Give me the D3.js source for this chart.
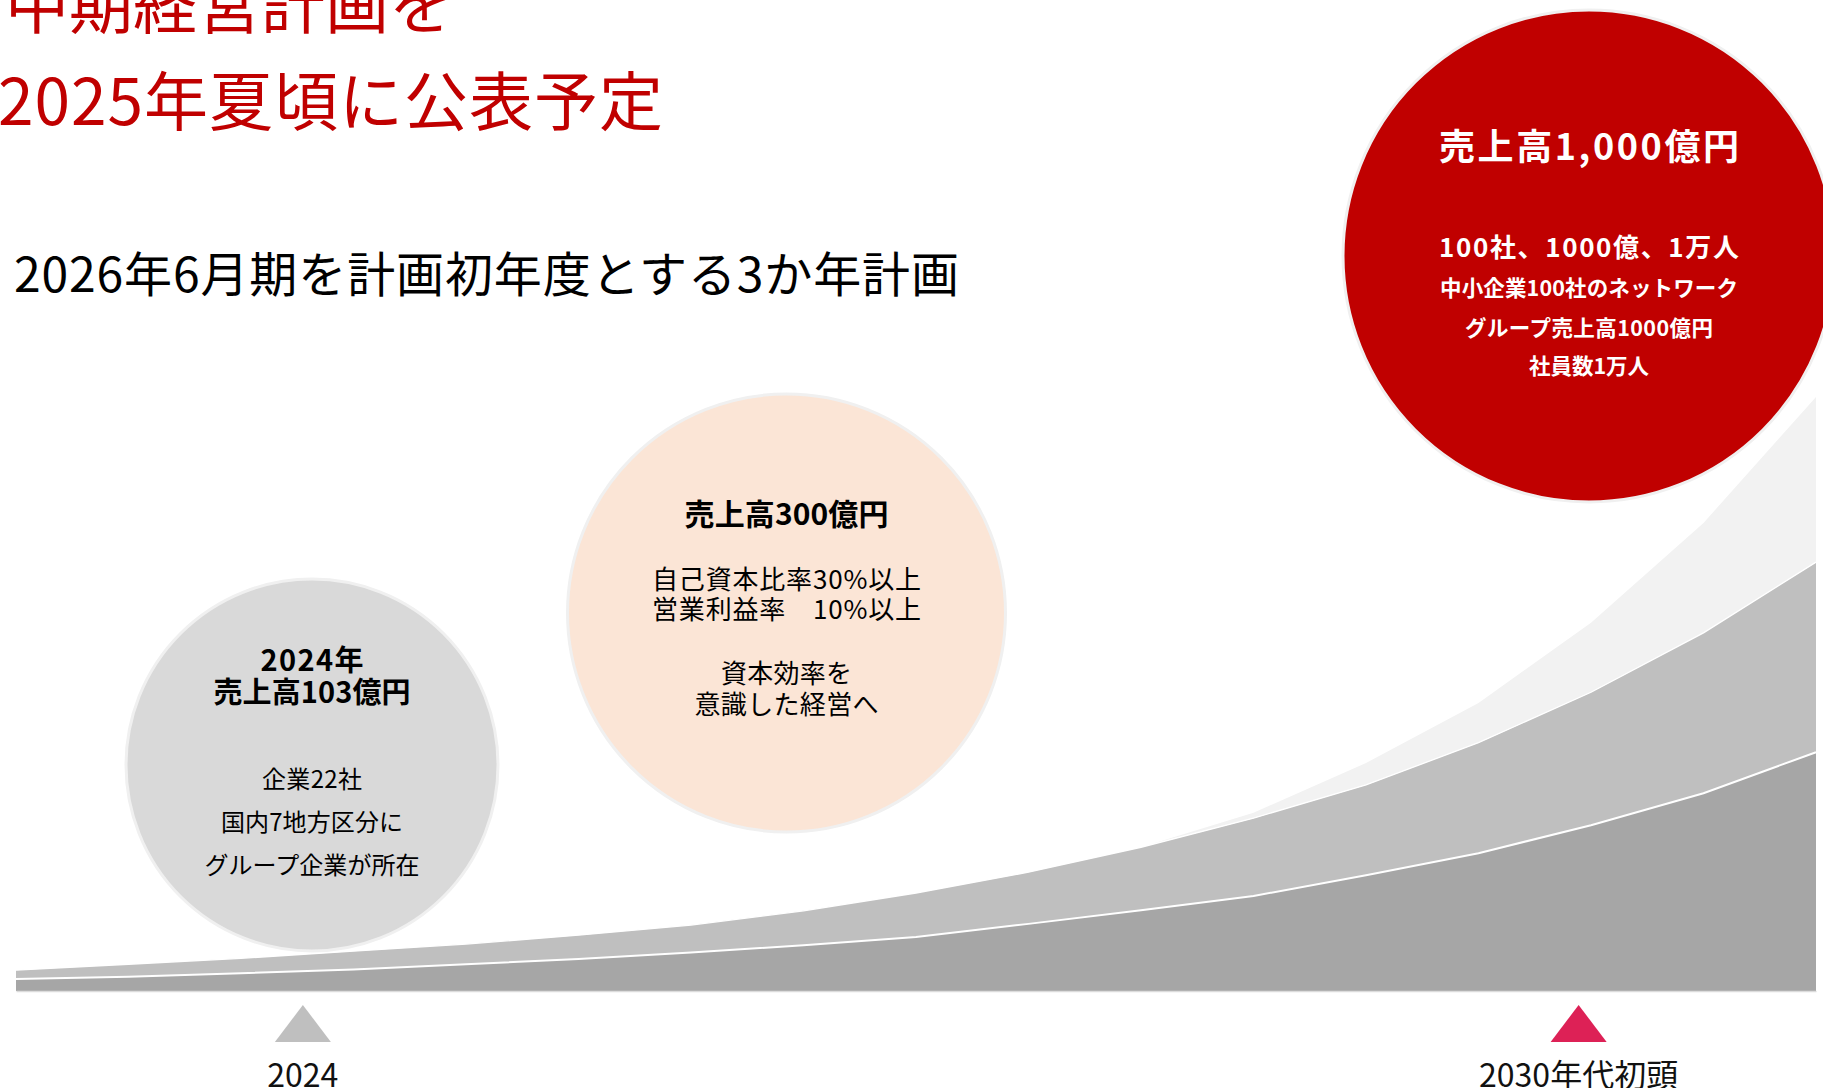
<!DOCTYPE html>
<html lang="ja">
<head>
<meta charset="utf-8">
<script src="https://cdn.jsdelivr.net/npm/d3@7"></script>
<style>
  html, body { margin: 0; padding: 0; background: #fff; }
  svg { display: block; }
  text { font-family: "Noto Sans CJK JP", "Noto Sans", sans-serif; }
</style>
</head>
<body>
<svg id="chart" width="1823" height="1088"></svg>
<script>
// ---- data -------------------------------------------------------------
// growth path, one entry per period step (scale: 0–1000)
const periods   = [0, 1, 2, 3, 4, 5, 6, 7, 8, 9, 10, 11, 12, 13, 14, 15, 16];
const baseLayer = [20, 24, 30, 36, 45, 54, 65, 77, 91, 113, 136, 160, 195, 232, 279, 333, 402];
const midLayer  = [15, 21, 25, 31, 34, 40, 46, 58, 74, 87, 106, 131, 152, 186, 224, 270, 320];
const topLayer  = [0, 0, 0, 0, 0, 0, 0, 0, 0, 0, 0, 9, 37, 67, 117, 185, 278];
const layerKeys = ["base", "mid", "top"];

// milestones on the time line (in period units)
const milestoneLabels = ["2024", "2030年代初頭"];
const milestoneAt     = [2.55, 13.89];

// headings
const headline = ["中期経営計画を", "2025年夏頃に公表予定"];
const subline  = "2026年6月期を計画初年度とする3か年計画";

// bubble texts
const bubbleText = [
  ["2024年", "売上高103億円", "企業22社", "国内7地方区分に", "グループ企業が所在"],
  ["売上高300億円", "自己資本比率30%以上", "営業利益率　10%以上", "資本効率を", "意識した経営へ"],
  ["売上高1,000億円", "100社、1000億、1万人", "中小企業100社のネットワーク", "グループ売上高1000億円", "社員数1万人"]
];

// ---- layout -----------------------------------------------------------
const svg = d3.select("#chart");

const x = d3.scaleLinear().domain([0, periods.length - 1]).range([16, 1816]);
const y = d3.scaleLinear().domain([0, 1000]).range([991, 397]);

const layerFill = ["#a6a6a6", "#bfbfbf", "#f2f2f2"];

const rows = periods.map((p, i) => ({
  period: p, base: baseLayer[i], mid: midLayer[i], top: topLayer[i]
}));
const stacked = d3.stack().keys(layerKeys)(rows);

const area = d3.area()
  .x(d => x(d.data.period))
  .y0(d => y(d[0]))
  .y1(d => y(d[1]));

const g = svg.append("g");
g.selectAll("path.layer")
  .data(stacked)
  .join("path")
  .attr("class", "layer")
  .attr("d", area)
  .attr("fill", (d, i) => layerFill[i]);

// white seams between layers
const seam = d3.line().x(d => x(d.data.period)).y(d => y(d[1]));
g.append("path").attr("d", seam(stacked[0]))
  .attr("fill", "none").attr("stroke", "#fff").attr("stroke-width", 2);
g.append("path").attr("d", seam(stacked[1]))
  .attr("fill", "none").attr("stroke", "#fff").attr("stroke-width", 1.3);

// baseline
const axis = d3.axisBottom(x).tickSize(0).tickValues([]).tickSizeOuter(0);
const ax = svg.append("g").attr("transform", `translate(0,${y(0)})`).call(axis);
ax.select(".domain").attr("stroke", "#dcdcdc").attr("stroke-width", 1.5);

// milestone markers
const markerColor = ["#bfbfbf", "#dd2156"];
const triTop = 1005, triBase = 1042, triHalf = 28;
milestoneAt.forEach((m, i) => {
  const cx = x(m);
  const p = d3.path();
  p.moveTo(cx, triTop);
  p.lineTo(cx + triHalf, triBase);
  p.lineTo(cx - triHalf, triBase);
  p.closePath();
  svg.append("path").attr("d", p.toString()).attr("fill", markerColor[i]);
  svg.append("text")
    .attr("x", cx).attr("y", 1087)
    .attr("text-anchor", "middle")
    .attr("font-size", 32)
    .attr("fill", "#111")
    .text(milestoneLabels[i]);
});

// vertical centring of a text line on a given y (glyph-box centre)
const mid = (yc, size) => yc - 0.1 * size;

// bubbles
const bubbleLayout = [
  { cx: 312, cy: 765, r: 186, fill: "#d9d9d9", ink: "#000",
    lines: [
      { y: 661, size: 29, bold: true, w: 103 },
      { y: 693, size: 29, bold: true, w: 197 },
      { y: 780, size: 24, w: 100 },
      { y: 823, size: 24, w: 182 },
      { y: 866, size: 24, w: 215 }
    ] },
  { cx: 786.5, cy: 613, r: 219, fill: "#fbe5d6", ink: "#000",
    lines: [
      { y: 515, size: 30, bold: true, w: 204 },
      { y: 580, size: 26, w: 269 },
      { y: 610, size: 26, w: 269 },
      { y: 674, size: 26, w: 131 },
      { y: 705, size: 26, w: 184 }
    ] },
  { cx: 1589, cy: 256, r: 246, fill: "#c00000", ink: "#fff",
    lines: [
      { y: 147.5, size: 36, bold: true, w: 300 },
      { y: 248, size: 26, bold: true, w: 300 },
      { y: 289, size: 21.5, bold: true, w: 298 },
      { y: 328.5, size: 21.5, bold: true, w: 248 },
      { y: 367, size: 21.5, bold: true, w: 120 }
    ] }
];

bubbleLayout.forEach((b, i) => {
  const bg = svg.append("g");
  bg.append("circle")
    .attr("cx", b.cx).attr("cy", b.cy).attr("r", b.r)
    .attr("fill", b.fill)
    .attr("stroke", "#f0f0f0").attr("stroke-width", 3);
  b.lines.forEach((ln, j) => {
    bg.append("text")
      .attr("x", b.cx).attr("y", mid(ln.y, ln.size))
      .attr("text-anchor", "middle")
      .attr("dominant-baseline", "central")
      .attr("font-size", ln.size)
      .attr("font-weight", ln.bold ? 700 : 400)
      .attr("fill", b.ink)
      .attr("textLength", ln.w)
      .attr("lengthAdjust", "spacing")
      .text(bubbleText[i][j]);
  });
});

// headings
svg.append("text")
  .attr("x", 5).attr("y", mid(6.5, 64))
  .attr("dominant-baseline", "central")
  .attr("font-size", 64).attr("fill", "#c00000")
  .text(headline[0]);
svg.append("text")
  .attr("x", -2).attr("y", mid(103.5, 64))
  .attr("dominant-baseline", "central")
  .attr("font-size", 64).attr("fill", "#c00000")
  .attr("textLength", 665).attr("lengthAdjust", "spacing")
  .text(headline[1]);
svg.append("text")
  .attr("x", 14).attr("y", mid(275.5, 48))
  .attr("dominant-baseline", "central")
  .attr("font-size", 48).attr("fill", "#000")
  .attr("textLength", 945).attr("lengthAdjust", "spacing")
  .text(subline);
</script>
</body>
</html>
